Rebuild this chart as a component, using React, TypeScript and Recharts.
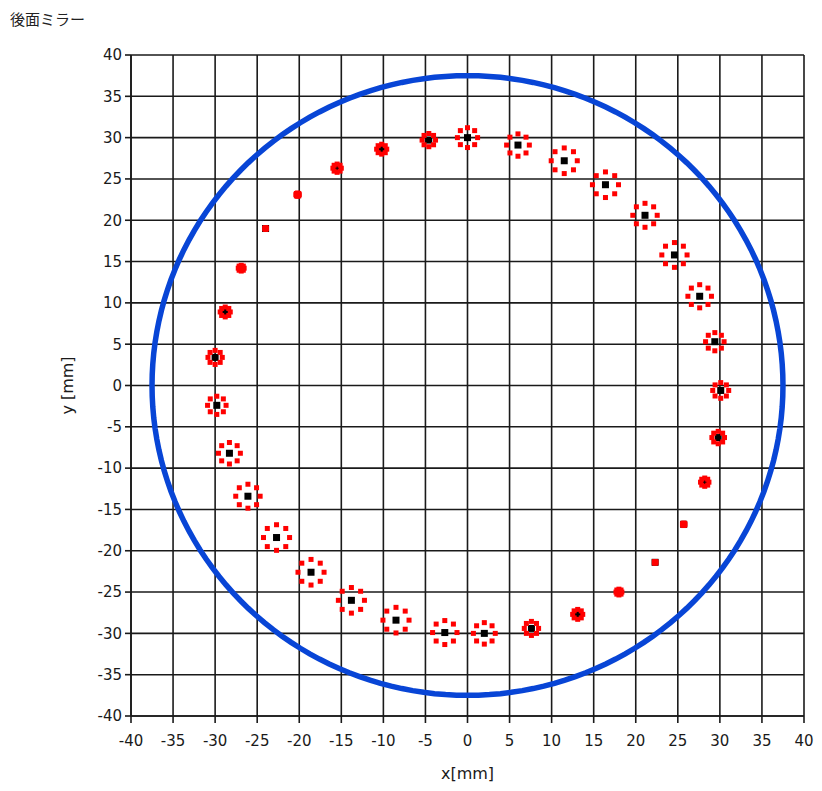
import { ScatterChart, Scatter, XAxis, YAxis, CartesianGrid } from 'recharts';

// axis ticks (mm)
const axisTicks = [-40, -35, -30, -25, -20, -15, -10, -5, 0, 5, 10, 15, 20, 25, 30, 35, 40];

// spot centres (mm), going round counter-clockwise from the top
const spotX = [
  0, -4.6, -10.2, -15.5, -20.2, -24.0, -26.9, -28.8, -30.0, -29.8, -28.3, -26.1, -22.7,
  -18.6, -13.8, -8.5, -2.7, 2.0, 7.6, 13.1, 18.0, 22.3, 25.7, 28.2, 29.8, 30.1, 29.4,
  27.6, 24.6, 21.1, 16.4, 11.5, 6.0,
];
const spotY = [
  30.0, 29.7, 28.6, 26.3, 23.1, 19.0, 14.2, 8.9, 3.4, -2.4, -8.2, -13.4, -18.4,
  -22.6, -26.0, -28.4, -29.9, -30.0, -29.4, -27.7, -25.0, -21.4, -16.8, -11.7, -6.3, -0.6, 5.3,
  10.8, 15.8, 20.6, 24.3, 27.2, 29.1,
];
// spot size (radius of the red dotted ring, mm)
const spotR = [
  1.2, 0.8, 0.6, 0.5, 0.2, 0.1, 0.35, 0.6, 0.85, 1.1, 1.3, 1.45, 1.55,
  1.55, 1.55, 1.55, 1.45, 1.3, 0.85, 0.6, 0.35, 0.1, 0.15, 0.5, 0.75, 0.95, 1.1,
  1.4, 1.5, 1.45, 1.55, 1.55, 1.35,
];

// mirror outline radius (mm)
const mirrorRadius = 37.5;

const centres = spotX.map((x, i) => ({ x, y: spotY[i] }));

const ringDots = spotX.flatMap((x, i) =>
  [0, 1, 2, 3, 4, 5, 6, 7].map((k) => ({
    x: x + spotR[i] * Math.cos((k * Math.PI) / 4),
    y: spotY[i] + spotR[i] * Math.sin((k * Math.PI) / 4),
  }))
);

const mirror = Array.from({ length: 181 }, (_, i) => ({
  x: mirrorRadius * Math.cos((i * 2 * Math.PI) / 180),
  y: mirrorRadius * Math.sin((i * 2 * Math.PI) / 180),
}));

const tickStyle = { fontSize: 15, fill: '#1a1a1a', fontFamily: 'DejaVu Sans, sans-serif' };

const BlackSquare = (props: any) => (
  <rect x={props.cx - 3.5} y={props.cy - 3.5} width={7} height={7} fill="#000" />
);

const RedSquare = (props: any) => (
  <rect x={props.cx - 2.5} y={props.cy - 2.5} width={5} height={5} fill="#ff0000" />
);

export default function App() {
  return (
    <div
      style={{
        position: 'absolute',
        left: 0,
        top: 0,
        width: 822,
        height: 791,
        background: '#fff',
        fontFamily: 'DejaVu Sans, sans-serif',
      }}
    >
      <div
        style={{
          position: 'absolute',
          left: 10,
          top: 8,
          fontSize: 15,
          color: '#222',
          fontFamily: '"Noto Sans CJK JP", sans-serif',
        }}
      >
        後面ミラー
      </div>
      <ScatterChart width={822} height={791} margin={{ top: 55, right: 18, bottom: 0, left: 0 }}>
        <CartesianGrid stroke="#1a1a1a" strokeWidth={1.6} strokeOpacity={1} />
        <XAxis
          type="number"
          dataKey="x"
          domain={[-40, 40]}
          ticks={axisTicks}
          allowDataOverflow
          height={75}
          stroke="#1a1a1a"
          strokeWidth={1.6}
          tickSize={7}
          tickMargin={12}
          tick={tickStyle}
          label={{ value: 'x[mm]', position: 'insideBottom', offset: 12, fontSize: 16, fill: '#1a1a1a' }}
        />
        <YAxis
          type="number"
          dataKey="y"
          domain={[-40, 40]}
          ticks={axisTicks}
          allowDataOverflow
          width={131}
          stroke="#1a1a1a"
          strokeWidth={1.6}
          tickSize={6}
          tickMargin={3}
          tick={tickStyle}
          label={{ value: 'y [mm]', angle: -90, position: 'center', dx: 2, fontSize: 16, fill: '#1a1a1a' }}
        />
        <Scatter
          data={mirror}
          line={{ stroke: '#0845d6', strokeWidth: 5.5 }}
          lineType="joint"
          shape={() => null}
          isAnimationActive={false}
        />
        <Scatter data={centres} shape={BlackSquare} isAnimationActive={false} />
        <Scatter data={ringDots} shape={RedSquare} isAnimationActive={false} />
      </ScatterChart>
    </div>
  );
}
